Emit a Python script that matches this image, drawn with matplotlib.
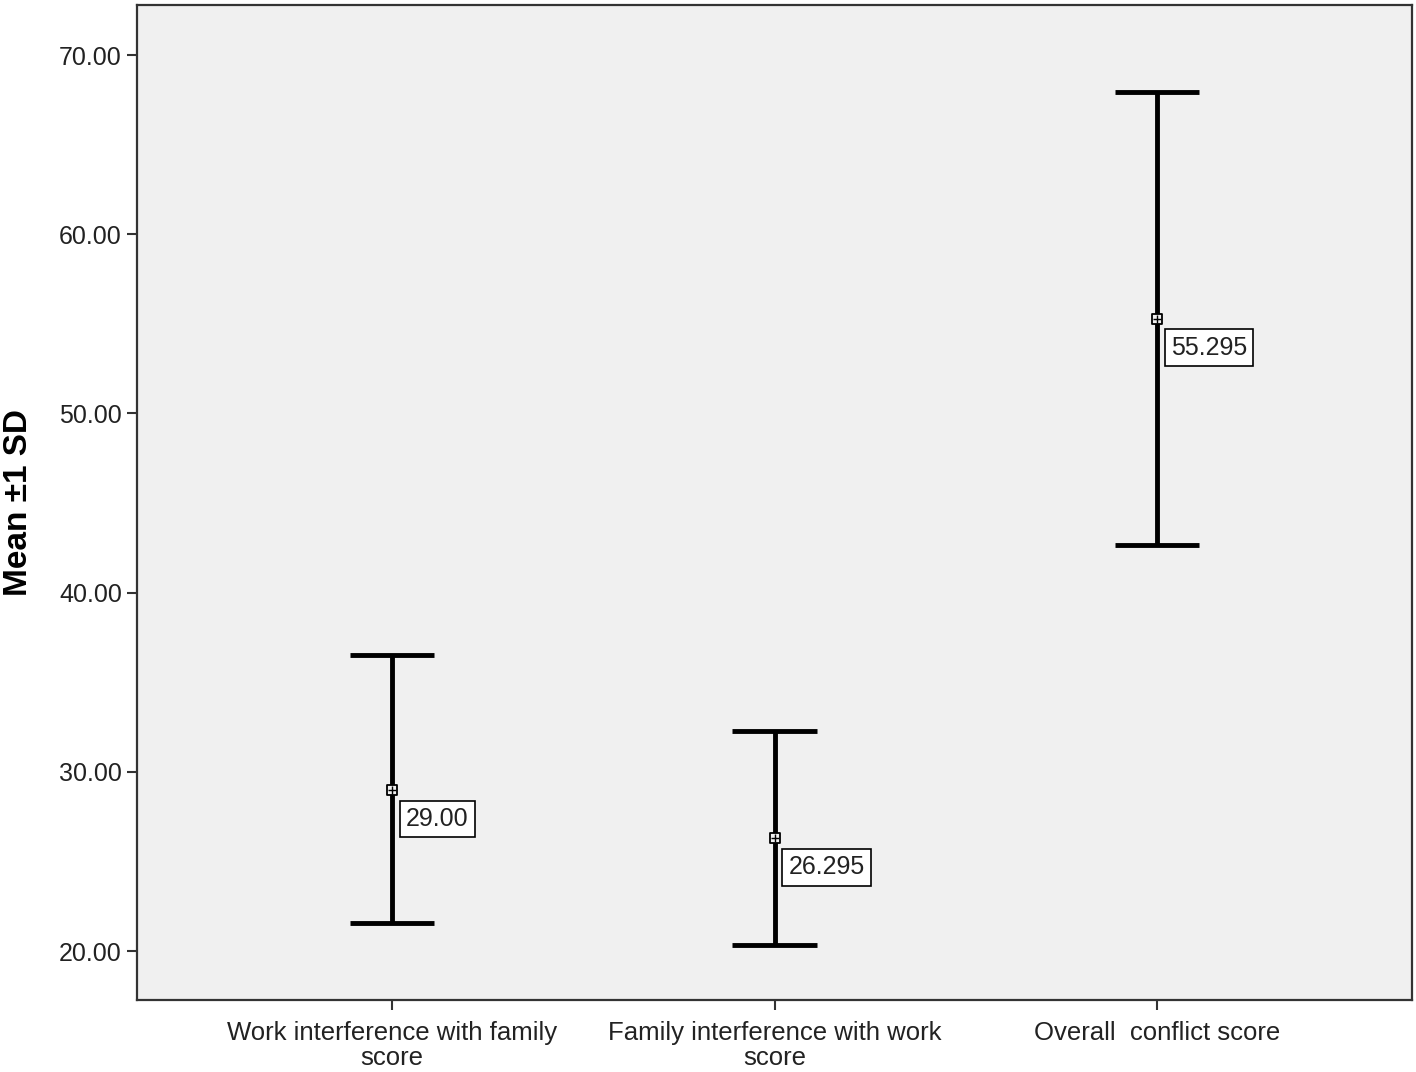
import matplotlib.pyplot as plt

# Data
categories = ["Work interference with family\nscore",
              "Family interference with work\nscore",
              "Overall  conflict score"]
means = [29.00, 26.295, 55.295]
upper = [36.52, 32.28, 67.94]
lower = [21.56, 20.33, 42.66]
mean_labels = ["29.00", "26.295", "55.295"]
yticks = [20, 30, 40, 50, 60, 70]

plt.rcParams['font.family'] = ['Liberation Sans', 'DejaVu Sans']

fig = plt.figure(figsize=(14.16, 10.72), dpi=100)
ax = fig.add_axes([0.0968, 0.0672, 0.9004, 0.9281])
ax.set_facecolor('#f0f0f0')

x = list(range(len(categories)))

# Error bars (mean +/- 1 SD)
for xi, lo, hi in zip(x, lower, upper):
    ax.plot([xi, xi], [lo, hi], color='black', linewidth=3.5, solid_capstyle='butt', zorder=2)
    for yv in (lo, hi):
        ax.plot([xi - 0.11, xi + 0.11], [yv, yv], color='black', linewidth=3.5,
                solid_capstyle='butt', zorder=2)

# Mean markers
ax.scatter(x, means, marker='s', s=45, facecolor='#f0f0f0', edgecolor='black',
           linewidth=1.3, zorder=3)
ax.scatter(x, means, marker='+', s=30, color='black', linewidth=1.0, zorder=3)

# Boxed value labels
for xi, m, lab in zip(x, means, mean_labels):
    ax.annotate(lab, xy=(xi, m), xytext=(10, -21), textcoords='offset points',
                fontsize=18, va='center', ha='left', color='#222222',
                bbox=dict(boxstyle='square,pad=0.25', facecolor='white',
                          edgecolor='black', linewidth=1.2),
                zorder=4)

ax.set_xlim(-0.667, 2.667)
ax.set_ylim(17.27, 72.79)
ax.set_yticks(yticks)
ax.set_yticklabels([f"{v:.2f}" for v in yticks], fontsize=18, color='#222222')
ax.set_xticks(x)
ax.set_xticklabels(categories, fontsize=18.5, color='#222222', linespacing=1.05)
ax.tick_params(axis='both', length=7, width=1.5, color='#333333')
ax.tick_params(axis='x', pad=8)
ax.tick_params(axis='y', pad=4)

ax.set_ylabel("Mean ±1 SD", fontsize=24, fontweight='bold', labelpad=18)

for sp in ax.spines.values():
    sp.set_linewidth(1.6)
    sp.set_color('#333333')

plt.savefig('out.png', dpi=100)
